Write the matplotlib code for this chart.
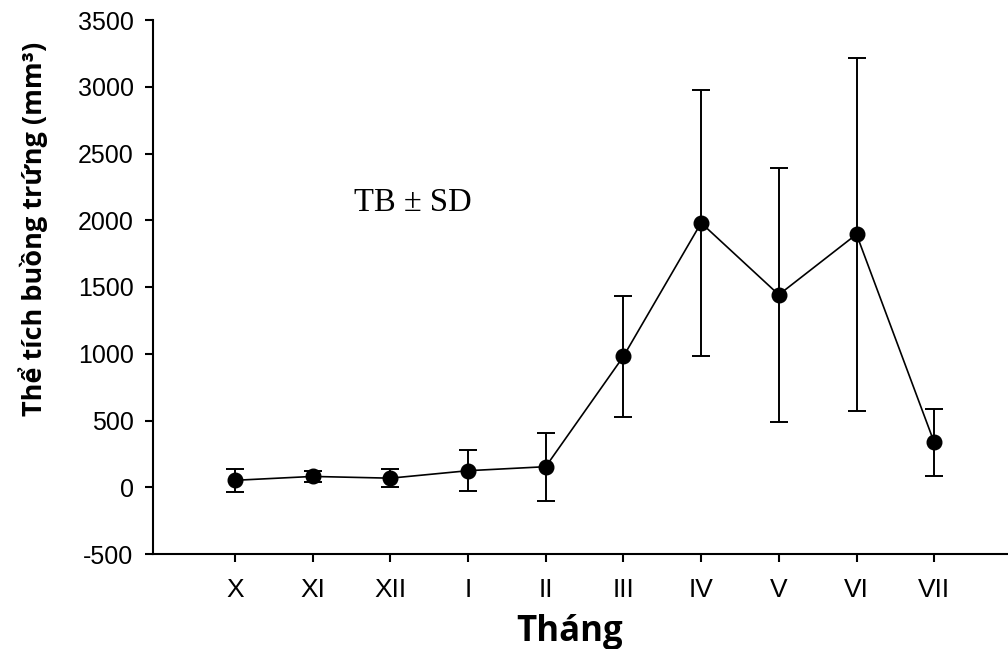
import matplotlib
matplotlib.use("Agg")
import matplotlib.pyplot as plt

plt.rcParams["axes.unicode_minus"] = False

# monthly ovary volume, mean and SD (mm3)
months = ["X", "XI", "XII", "I", "II", "III", "IV", "V", "VI", "VII"]
means = [52, 81, 68, 124, 154, 980, 1980, 1442, 1895, 336]
sds = [84, 43, 68, 152, 256, 456, 995, 951, 1322, 251]

fig = plt.figure(figsize=(10.08, 6.49), dpi=100)
ax = fig.add_axes([153 / 1008, 95 / 649, 855 / 1008, 534 / 649])

x = list(range(1, len(months) + 1))
ax.errorbar(x, means, yerr=sds, color="black", marker="o", markersize=10.5,
            linewidth=1.2, elinewidth=1.4, capsize=6.5, capthick=1.4)

ax.text(3.29, 2131, "TB \u00b1 SD", fontsize=23.5, family="Liberation Serif",
        ha="center", va="center")

ax.set_xlim(-0.055, 10.95)
ax.set_ylim(-500, 3500)
ax.set_xticks(x)
ax.set_xticklabels(months)
ax.set_yticks(range(-500, 3501, 500))

for side in ("top", "right"):
    ax.spines[side].set_visible(False)
for side in ("left", "bottom"):
    ax.spines[side].set_linewidth(1.5)

ax.tick_params(axis="both", direction="out", length=6, width=1.5)
ax.tick_params(axis="y", labelsize=18, pad=8)
ax.tick_params(axis="x", labelsize=19, pad=11)
for lab in ax.get_xticklabels() + ax.get_yticklabels():
    lab.set_family("Liberation Sans")

ax.set_ylabel("Thể tích buồng trứng (mm³)", family="Open Sans", fontweight="bold",
              fontsize=19.5, va="center")
ax.yaxis.set_label_coords(-(153 - 33) / 855, 0.609)
ax.set_xlabel("Tháng", family="Open Sans", fontweight="bold", fontsize=25, va="center")
ax.xaxis.set_label_coords((570 - 153) / 855, -(632 - 554) / 534)

plt.savefig("out.png", dpi=100)
